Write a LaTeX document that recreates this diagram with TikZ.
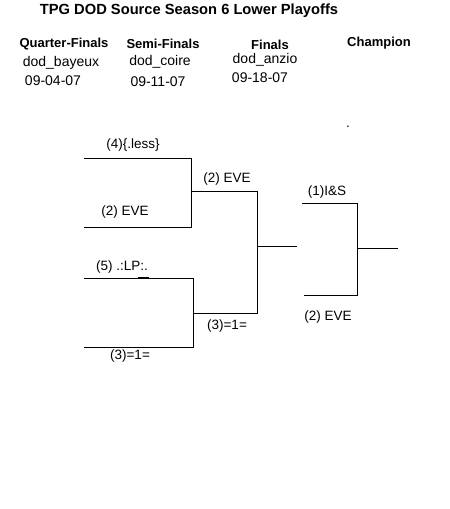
\documentclass[tikz,border=0pt]{standalone}
\usepackage{fontspec}
\setmainfont{Liberation Sans}
\usepackage{tikz}

\begin{document}
\begin{tikzpicture}[x=1pt, y=-1pt, line width=1pt,
        every node/.append style={inner sep=0pt, font=\fontsize{13.5}{15}\selectfont},
        head/.style={font=\fontsize{13}{15}\selectfont\bfseries},
        info/.style={font=\fontsize{14}{16}\selectfont}]
        \useasboundingbox (0,0) rectangle (450,509);

        % headings
        \node [head, font=\fontsize{14.7}{17}\selectfont\bfseries] (title) at (189,11) {TPG DOD Source Season 6 Lower Playoffs};
        \node [head] (QF) at (64,44) {Quarter-Finals};
        \node [head] (SF) at (163,44) {Semi-Finals};
        \node [head] (F) at (270,45) {Finals};
        \node [head] (C) at (379,43) {Champion};
        \node [info] (QFmap) at (61,63) {dod\_bayeux};
        \node [info] (QFdate) at (53,81) {09-04-07};
        \node [info] (SFmap) at (160,62) {dod\_coire};
        \node [info] (SFdate) at (158,82) {09-11-07};
        \node [info] (Fmap) at (265,60) {dod\_anzio};
        \node [info] (Fdate) at (260,78) {09-18-07};
        \node [anchor=base] (dot) at (348,127) {.};

        % bracket ends
        \coordinate (Q1a) at (84,158);  \coordinate (Q1b) at (191,158);
        \coordinate (Q2a) at (84,227);  \coordinate (Q2b) at (191,227);
        \coordinate (Q3a) at (84,278);  \coordinate (Q3b) at (193,278);
        \coordinate (Q4a) at (84,347);  \coordinate (Q4b) at (193,347);
        \coordinate (S1a) at (191,191); \coordinate (S1b) at (257,191);
        \coordinate (S2a) at (193,313); \coordinate (S2b) at (257,313);
        \coordinate (Fa) at (257,246);  \coordinate (Fb) at (297,246);
        \coordinate (F1a) at (302,203); \coordinate (F1b) at (357,203);
        \coordinate (F2a) at (304,295); \coordinate (F2b) at (357,295);
        \coordinate (Ca) at (357,248);  \coordinate (Cb) at (398,248);
        \coordinate (LPa) at (138,277.5); \coordinate (LPb) at (149,277.5);

        \draw (Q1a) -- (Q1b) -- (Q2b) -- (Q2a);
        \draw (Q3a) -- (Q3b) -- (Q4b) -- (Q4a);
        \draw (S1a) -- (S1b) -- (S2b) -- (S2a);
        \draw (Fa) -- (Fb);
        \draw (F1a) -- (F1b) -- (F2b) -- (F2a);
        \draw (Ca) -- (Cb);
        \draw [line width=2pt] (LPa) -- (LPb);

        % teams
        \node (Q1) at (133,145) {(4)\{.less\}};
        \node (Q2) at (125,212) {(2) EVE};
        \node (Q3) at (122,267) {(5) .:LP:.};
        \node (Q4) at (130,356) {(3)=1=};
        \node (S1) at (227,179) {(2) EVE};
        \node (S2) at (227,326) {(3)=1=};
        \node (F1) at (327,192) {(1)I\&S};
        \node (F2) at (328,317) {(2) EVE};
    \end{tikzpicture}
\end{document}
